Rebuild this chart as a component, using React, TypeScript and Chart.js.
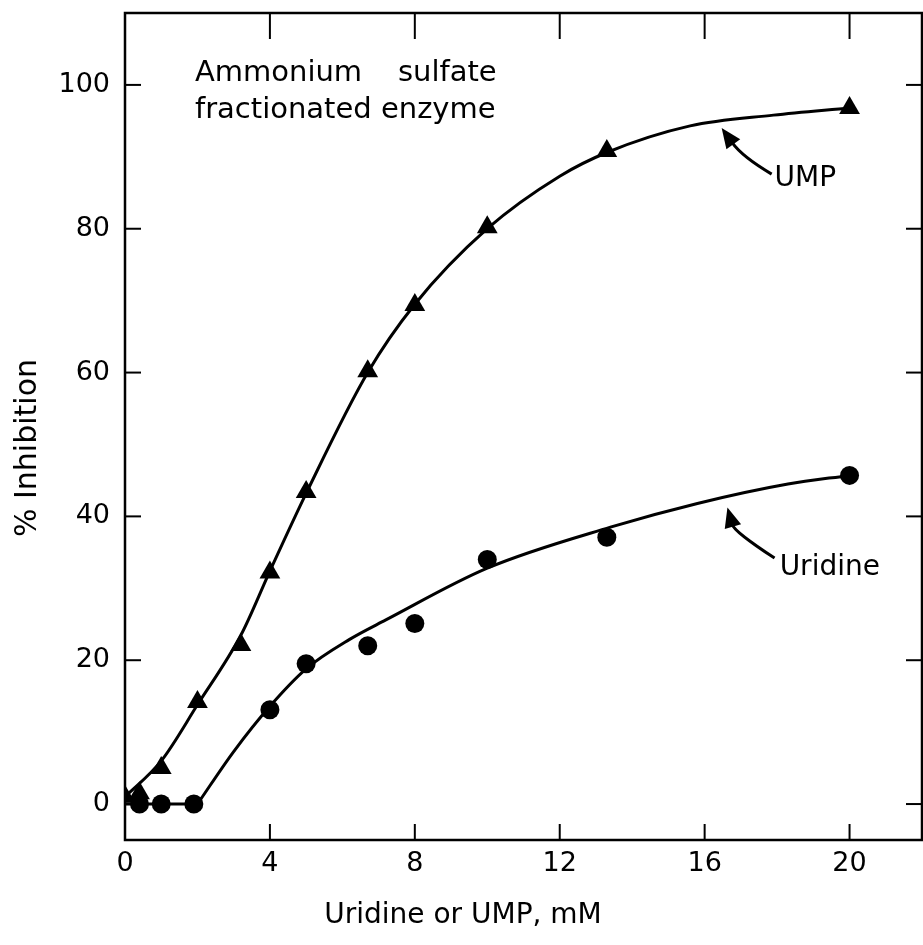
import React, { useEffect, useRef } from "react";
import { Chart, registerables } from "chart.js";

Chart.register(...registerables);

// ---- axis ticks ----
const X_TICKS = [0, 4, 8, 12, 16, 20];
const Y_TICKS = [0, 20, 40, 60, 80, 100];
const X_MIN = 0;
const X_MAX = 22;
const Y_MIN = -5;
const Y_MAX = 110;

// ---- measured points ----
const UMP_X = [0, 0.4, 1, 2, 3.2, 4, 5, 6.7, 8, 10, 13.3, 20];
const UMP_Y = [1.0, 1.5, 5.0, 14.2, 22.1, 32.2, 43.4, 60.2, 69.4, 80.2, 90.8, 96.8];

const URIDINE_X = [0.4, 1, 1.9, 4, 5, 6.7, 8, 10, 13.3, 20];
const URIDINE_Y = [0, 0, 0, 13.1, 19.5, 22, 25.1, 34, 37.1, 45.7];

// ---- fitted (hand-drawn) curves ----
const UMP_CURVE_X = [0, 1, 2, 3.2, 4, 5, 6.7, 8, 10, 12, 13.3, 15.6, 17.9, 20];
const UMP_CURVE_Y = [1, 6, 13.8, 23.5, 32.4, 43.2, 60, 69.5, 80, 87.3, 90.6, 94.3, 95.8, 96.8];

const URIDINE_FLAT_X = [0, 2];
const URIDINE_FLAT_Y = [0, 0];
const URIDINE_CURVE_X = [2, 3, 4, 5, 6.2, 7.2, 10, 13.4, 15.8, 18.3, 20];
const URIDINE_CURVE_Y = [0, 7.3, 13.6, 18.8, 22.9, 25.6, 32.8, 38.5, 41.8, 44.5, 45.7];

// ---- labels ----
const NOTE_LINE_1A = "Ammonium";
const NOTE_LINE_1B = "sulfate";
const NOTE_LINE_2 = "fractionated enzyme";
const UMP_LABEL = "UMP";
const URIDINE_LABEL = "Uridine";
const X_TITLE = "Uridine or UMP, mM";
const Y_TITLE = "% Inhibition";

const pts = (xs: number[], ys: number[]) => xs.map((x, i) => ({ x, y: ys[i] }));

const FONT = "'DejaVu Sans', sans-serif";
const PAGE_W = 923;
const PAGE_H = 945;
const AREA_RIGHT = 922;

const decorPlugin = {
  id: "decor",
  afterDraw(chart: any) {
    const { ctx, chartArea: a, scales } = chart;
    const xs = scales.x;
    const ys = scales.y;
    const X = (v: number) => xs.getPixelForValue(v);
    const Y = (v: number) => ys.getPixelForValue(v);
    ctx.save();
    ctx.strokeStyle = "#000";
    ctx.fillStyle = "#000";
    ctx.lineWidth = 2.5;
    ctx.lineCap = "butt";
    // frame
    ctx.strokeRect(a.left, a.top, a.right - a.left, a.bottom - a.top);
    const seg = (x1: number, y1: number, x2: number, y2: number) => {
      ctx.beginPath();
      ctx.moveTo(x1, y1);
      ctx.lineTo(x2, y2);
      ctx.stroke();
    };
    // inward ticks
    ctx.lineWidth = 2;
    X_TICKS.forEach((v) => {
      const px = X(v);
      seg(px, a.bottom, px, a.bottom - 16);
      seg(px, a.top, px, a.top + 26);
    });
    Y_TICKS.forEach((v) => {
      const py = Y(v);
      seg(a.left, py, a.left + 16, py);
      seg(a.right, py, a.right - 16, py);
    });

    // annotation text
    ctx.font = `29px ${FONT}`;
    ctx.textBaseline = "alphabetic";
    ctx.textAlign = "left";
    ctx.fillText(NOTE_LINE_1A, X(1.93), Y(100.5));
    ctx.textAlign = "right";
    ctx.fillText(NOTE_LINE_1B, X(10.26), Y(100.5));
    ctx.textAlign = "left";
    ctx.fillText(NOTE_LINE_2, X(1.93), Y(95.4));

    ctx.font = `28px ${FONT}`;
    ctx.fillText(UMP_LABEL, X(17.93), Y(86.0));
    ctx.fillText(URIDINE_LABEL, X(18.07), Y(31.9));

    // arrows
    const arrow = (t: number[], m: number[], p: number[]) => {
      const T = [X(t[0]), Y(t[1])];
      const M = [X(m[0]), Y(m[1])];
      const P = [X(p[0]), Y(p[1])];
      const C = [2 * M[0] - (T[0] + P[0]) / 2, 2 * M[1] - (T[1] + P[1]) / 2];
      let dx = P[0] - C[0];
      let dy = P[1] - C[1];
      const len = Math.hypot(dx, dy);
      dx /= len;
      dy /= len;
      const hl = 20;
      const hw = 8.5;
      const B = [P[0] - dx * hl, P[1] - dy * hl];
      ctx.lineWidth = 3;
      ctx.beginPath();
      ctx.moveTo(T[0], T[1]);
      ctx.quadraticCurveTo(C[0], C[1], B[0] + dx * 2, B[1] + dy * 2);
      ctx.stroke();
      ctx.beginPath();
      ctx.moveTo(P[0], P[1]);
      ctx.lineTo(B[0] - dy * hw, B[1] + dx * hw);
      ctx.lineTo(B[0] + dy * hw, B[1] - dx * hw);
      ctx.closePath();
      ctx.fill();
    };
    arrow([17.85, 87.6], [17.1, 90.4], [16.47, 94.0]);
    arrow([17.93, 34.2], [17.05, 37.8], [16.63, 41.25]);

    // axis titles
    ctx.font = `28px ${FONT}`;
    ctx.textAlign = "center";
    ctx.textBaseline = "middle";
    ctx.fillText(X_TITLE, 463, 916);
    ctx.save();
    ctx.translate(28, 448);
    ctx.rotate(-Math.PI / 2);
    ctx.font = `30px ${FONT}`;
    ctx.fillText(Y_TITLE, 0, 0);
    ctx.restore();

    ctx.restore();
  },
};

const zeroPad = (s: any) => {
  s.paddingTop = 0;
  s.paddingBottom = 0;
  s.paddingLeft = 0;
  s.paddingRight = 0;
};

export default function App() {
  const ref = useRef<HTMLCanvasElement | null>(null);

  useEffect(() => {
    if (!ref.current) return;
    const lineBase = {
      showLine: true,
      pointRadius: 0,
      borderColor: "#000",
      backgroundColor: "#000",
      borderWidth: 3,
      fill: false,
    };
    const chart = new Chart(ref.current, {
      type: "scatter",
      data: {
        datasets: [
          {
            ...lineBase,
            label: "UMP curve",
            data: pts(UMP_CURVE_X, UMP_CURVE_Y),
            cubicInterpolationMode: "monotone",
          },
          {
            ...lineBase,
            label: "Uridine flat",
            data: pts(URIDINE_FLAT_X, URIDINE_FLAT_Y),
            tension: 0,
          },
          {
            ...lineBase,
            label: "Uridine curve",
            data: pts(URIDINE_CURVE_X, URIDINE_CURVE_Y),
            cubicInterpolationMode: "monotone",
          },
          {
            label: "UMP",
            data: pts(UMP_X, UMP_Y),
            showLine: false,
            pointStyle: "triangle",
            pointRadius: 12,
            pointBorderWidth: 0,
            backgroundColor: "#000",
            borderColor: "#000",
          },
          {
            label: "Uridine",
            data: pts(URIDINE_X, URIDINE_Y),
            showLine: false,
            pointStyle: "circle",
            pointRadius: 9.5,
            pointBorderWidth: 0,
            backgroundColor: "#000",
            borderColor: "#000",
          },
        ],
      } as any,
      options: {
        animation: false,
        responsive: false,
        maintainAspectRatio: false,
        layout: { padding: { top: 13, right: 1, left: 0, bottom: 0 } },
        plugins: {
          legend: { display: false },
          tooltip: { enabled: false },
          title: { display: false },
        },
        scales: {
          x: {
            type: "linear",
            min: X_MIN,
            max: X_MAX,
            grid: { display: false, drawTicks: false },
            border: { display: false },
            ticks: {
              color: "#000",
              font: { family: FONT, size: 27 },
              padding: 8,
              maxRotation: 0,
              autoSkip: false,
            },
            afterBuildTicks: (s: any) => {
              s.ticks = X_TICKS.map((v) => ({ value: v }));
            },
            afterFit: (s: any) => {
              s.height = 105;
              zeroPad(s);
            },
          },
          y: {
            type: "linear",
            min: Y_MIN,
            max: Y_MAX,
            grid: { display: false, drawTicks: false },
            border: { display: false },
            ticks: {
              color: "#000",
              font: { family: FONT, size: 27 },
              padding: 15,
              autoSkip: false,
            },
            afterBuildTicks: (s: any) => {
              s.ticks = Y_TICKS.map((v) => ({ value: v }));
            },
            afterFit: (s: any) => {
              s.width = 125;
              zeroPad(s);
            },
          },
        },
      } as any,
      plugins: [decorPlugin],
    });
    // widen the (clipped) canvas so the plot frame's right edge lands where the reference has it
    for (let i = 0; i < 4; i++) {
      const diff = AREA_RIGHT - chart.chartArea.right;
      if (Math.abs(diff) < 0.5) break;
      chart.resize(chart.width + diff, PAGE_H);
    }
    return () => chart.destroy();
  }, []);

  return (
    <div
      style={{
        position: "absolute",
        left: 0,
        top: 0,
        width: PAGE_W,
        height: PAGE_H,
        overflow: "hidden",
        background: "#fff",
      }}
    >
      <canvas ref={ref} width={PAGE_W} height={PAGE_H} style={{ width: PAGE_W, height: PAGE_H, display: "block" }} />
    </div>
  );
}
